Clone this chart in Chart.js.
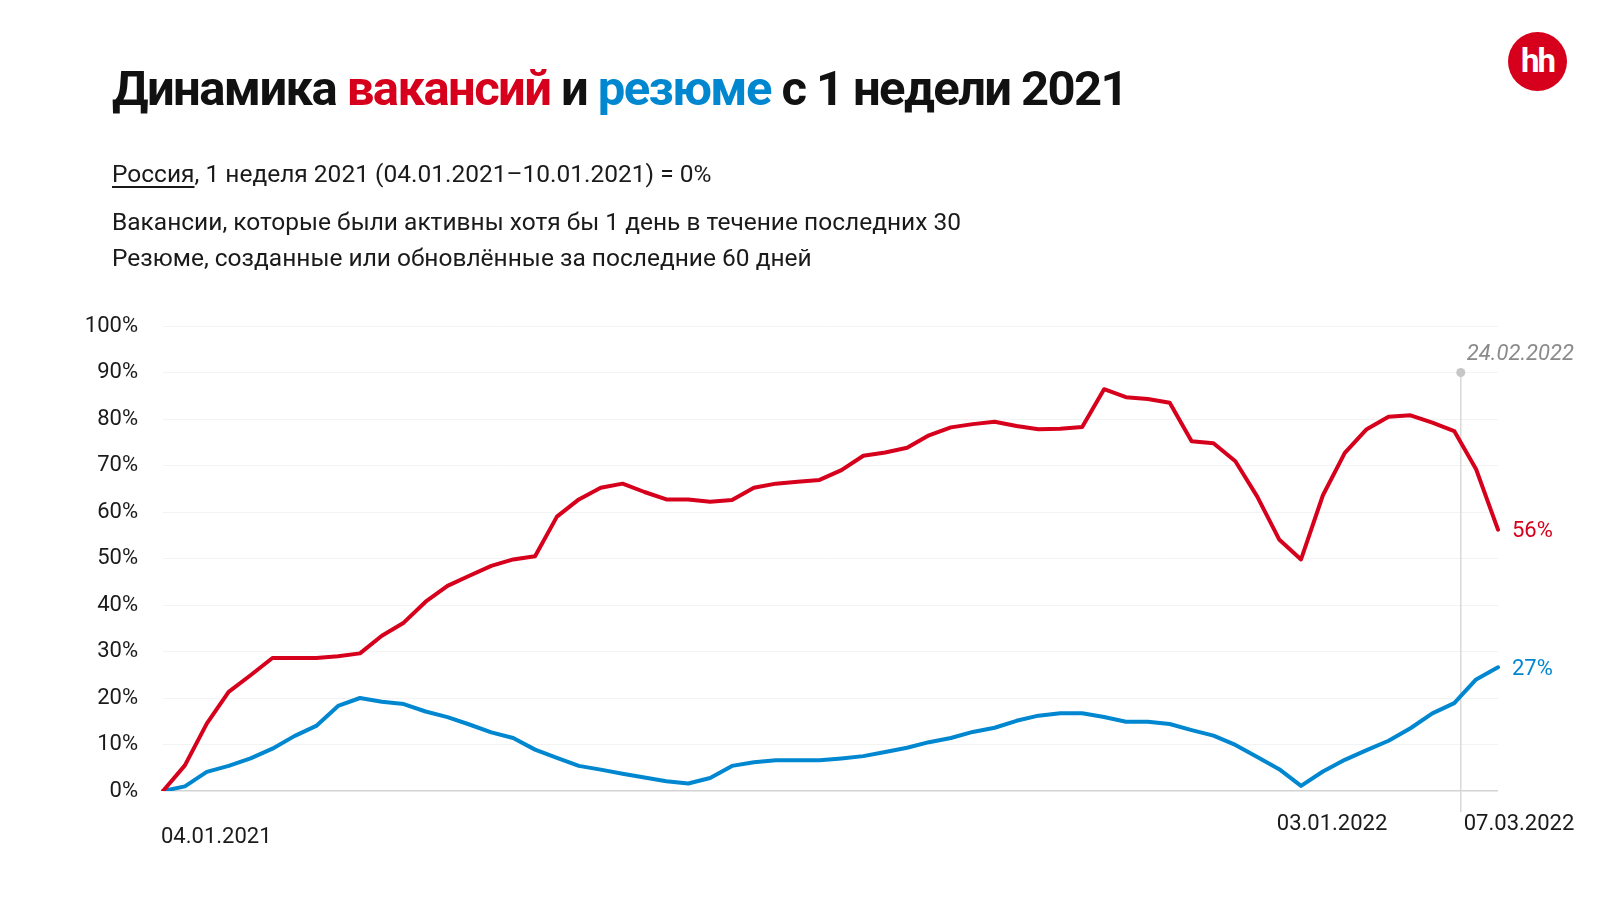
<!DOCTYPE html>
<html lang="ru">
<head>
<meta charset="utf-8">
<script src="https://cdn.jsdelivr.net/npm/chart.js@4"></script>
<style>
  html, body { margin: 0; padding: 0; background: #fff; }
  body { width: 1600px; height: 900px; position: relative; overflow: hidden; font-family: Roboto, "Noto Sans", sans-serif; color: #1a1a1a; }
  #graf { position: absolute; left: 0; top: 0; }
  .t { position: absolute; left: 112px; white-space: nowrap; }
  #titulo { top: 60px; font-size: 49px; font-weight: 700; color: #111; letter-spacing: -1.6px; }
  .vermelho { color: #d6001c; }
  .azul { color: #0087d0; }
  #sub1 { top: 159px; font-size: 24.5px; }
  #sub2 { top: 207px; font-size: 24.5px; }
  #sub3 { top: 243px; font-size: 24.5px; }
  #sub1 u { text-decoration-thickness: 1.5px; text-underline-offset: 4px; }
  #logo { position: absolute; left: 1508px; top: 32px; width: 59px; height: 59px; border-radius: 50%; background: #d6001c; color: #fff; font-weight: 700; font-size: 33px; line-height: 57px; text-align: center; letter-spacing: -2px; }
</style>
</head>
<body>
<canvas id="graf" width="1600" height="900"></canvas>
<div class="t" id="titulo">Динамика <span class="vermelho">вакансий</span> и <span class="azul">резюме</span> с 1 недели 2021</div>
<div class="t" id="sub1"><u>Россия</u>, 1 неделя 2021 (04.01.2021–10.01.2021) = 0%</div>
<div class="t" id="sub2">Вакансии, которые были активны хотя бы 1 день в течение последних 30</div>
<div class="t" id="sub3">Резюме, созданные или обновлённые за последние 60 дней</div>
<div id="logo">hh</div>
<script>
// недели (понедельник каждой недели)
let semanas = [
  '04.01.2021', '11.01.2021', '18.01.2021', '25.01.2021', '01.02.2021', '08.02.2021', '15.02.2021', '22.02.2021',
  '01.03.2021', '08.03.2021', '15.03.2021', '22.03.2021', '29.03.2021', '05.04.2021', '12.04.2021', '19.04.2021',
  '26.04.2021', '03.05.2021', '10.05.2021', '17.05.2021', '24.05.2021', '31.05.2021', '07.06.2021', '14.06.2021',
  '21.06.2021', '28.06.2021', '05.07.2021', '12.07.2021', '19.07.2021', '26.07.2021', '02.08.2021', '09.08.2021',
  '16.08.2021', '23.08.2021', '30.08.2021', '06.09.2021', '13.09.2021', '20.09.2021', '27.09.2021', '04.10.2021',
  '11.10.2021', '18.10.2021', '25.10.2021', '01.11.2021', '08.11.2021', '15.11.2021', '22.11.2021', '29.11.2021',
  '06.12.2021', '13.12.2021', '20.12.2021', '27.12.2021', '03.01.2022', '10.01.2022', '17.01.2022', '24.01.2022',
  '31.01.2022', '07.02.2022', '14.02.2022', '21.02.2022', '28.02.2022', '07.03.2022'
];

// вакансии, % к 1 неделе 2021
let vagas = [
  0, 5.5, 14.5, 21.3, 24.9, 28.6, 28.6, 28.6, 29.0, 29.6, 33.4, 36.2, 40.7, 44.1, 46.3, 48.4,
  49.8, 50.5, 59.0, 62.7, 65.2, 66.1, 64.3, 62.7, 62.7, 62.2, 62.6, 65.2, 66.1, 66.5, 66.9, 69.0,
  72.1, 72.8, 73.8, 76.5, 78.2, 78.9, 79.4, 78.5, 77.8, 77.9, 78.3, 86.4, 84.7, 84.3, 83.5, 75.2,
  74.8, 70.9, 63.3, 54.1, 49.8, 63.6, 72.7, 77.8, 80.5, 80.8, 79.2, 77.4, 69.2, 56.2
];

// резюме, % к 1 неделе 2021
let curriculos = [
  0, 1.0, 4.1, 5.4, 7.0, 9.1, 11.8, 14.0, 18.3, 20.0, 19.2, 18.7, 17.1, 15.9, 14.3, 12.6,
  11.4, 8.9, 7.1, 5.4, 4.6, 3.7, 2.9, 2.1, 1.6, 2.8, 5.4, 6.2, 6.6, 6.6, 6.6, 7.0,
  7.5, 8.4, 9.3, 10.5, 11.4, 12.7, 13.6, 15.1, 16.2, 16.7, 16.7, 15.9, 14.9, 14.9, 14.4, 13.1,
  11.9, 9.9, 7.3, 4.7, 1.1, 4.2, 6.7, 8.8, 10.8, 13.5, 16.7, 18.9, 24.0, 26.6
];

// подписи оси X и их позиции (индекс недели)
let rotulosX = ['04.01.2021', '03.01.2022', '07.03.2022'];
let indicesX = [0, 52, 61];

// отметка 24.02.2022
let marcaTexto = '24.02.2022';
let marcaIndice = 59.3;
let marcaValor = 90;

const VERMELHO = '#d6001c';
const AZUL = '#0087d0';

const extras = {
  id: 'extras',
  beforeDatasetsDraw(chart) {
    const c = chart.ctx;
    const x = chart.scales.x.getPixelForValue(marcaIndice);
    const yTopo = chart.scales.y.getPixelForValue(marcaValor);
    const yBase = chart.chartArea.bottom + 21;
    c.save();
    c.strokeStyle = '#d9d9d9';
    c.lineWidth = 1.5;
    c.beginPath();
    c.moveTo(x, yTopo);
    c.lineTo(x, yBase);
    c.stroke();
    c.fillStyle = '#c6c6c6';
    c.beginPath();
    c.arc(x, yTopo, 4.5, 0, Math.PI * 2);
    c.fill();
    c.font = 'italic 22px Roboto';
    c.fillStyle = '#8a8a8a';
    c.textAlign = 'left';
    c.textBaseline = 'middle';
    c.fillText(marcaTexto, x + 6, yTopo - 18);
    c.restore();
  },
  afterDraw(chart) {
    const c = chart.ctx;
    const sx = chart.scales.x, sy = chart.scales.y;
    c.save();
    c.font = '22px Roboto';
    c.textBaseline = 'middle';
    // подписи оси X
    c.fillStyle = '#1a1a1a';
    const ajustes = [{ dx: -2, dy: 46, al: 'left' }, { dx: 31, dy: 33, al: 'center' }, { dx: 21, dy: 33, al: 'center' }];
    rotulosX.forEach((r, i) => {
      const a = ajustes[i];
      c.textAlign = a.al;
      c.fillText(r, sx.getPixelForValue(indicesX[i]) + a.dx, chart.chartArea.bottom + a.dy);
    });
    // значения на концах линий
    c.textAlign = 'left';
    chart.data.datasets.forEach(ds => {
      const n = ds.data.length - 1;
      c.fillStyle = ds.borderColor;
      c.fillText(Math.round(ds.data[n]) + '%', sx.getPixelForValue(n) + 14, sy.getPixelForValue(ds.data[n]) + 2);
    });
    c.restore();
  }
};

const ctx = document.getElementById('graf').getContext('2d');
const grafico = new Chart(ctx, {
  type: 'line',
  data: {
    labels: semanas,
    datasets: [
      { label: 'Вакансии', data: vagas, borderColor: VERMELHO, borderWidth: 4, pointRadius: 0, tension: 0, borderJoinStyle: 'round', borderCapStyle: 'round' },
      { label: 'Резюме', data: curriculos, borderColor: AZUL, borderWidth: 4, pointRadius: 0, tension: 0, borderJoinStyle: 'round', borderCapStyle: 'round' }
    ]
  },
  options: {
    responsive: false,
    animation: false,
    layout: { padding: { top: 326, right: 102, bottom: 109, left: 0 } },
    plugins: {
      legend: { display: false },
      tooltip: { enabled: false }
    },
    scales: {
      x: { display: false },
      y: {
        min: 0,
        max: 100,
        afterFit: function(s) { s.width = 163; },
        border: { display: false },
        grid: {
          drawTicks: false,
          color: c => c.tick.value === 0 ? '#d3d3d3' : '#f3f3f3',
          lineWidth: c => c.tick.value === 0 ? 1.5 : 1
        },
        ticks: {
          stepSize: 10,
          padding: 25,
          color: '#1a1a1a',
          font: { family: 'Roboto', size: 22 },
          callback: v => v + '%'
        }
      }
    }
  },
  plugins: [extras]
});
</script>
</body>
</html>
